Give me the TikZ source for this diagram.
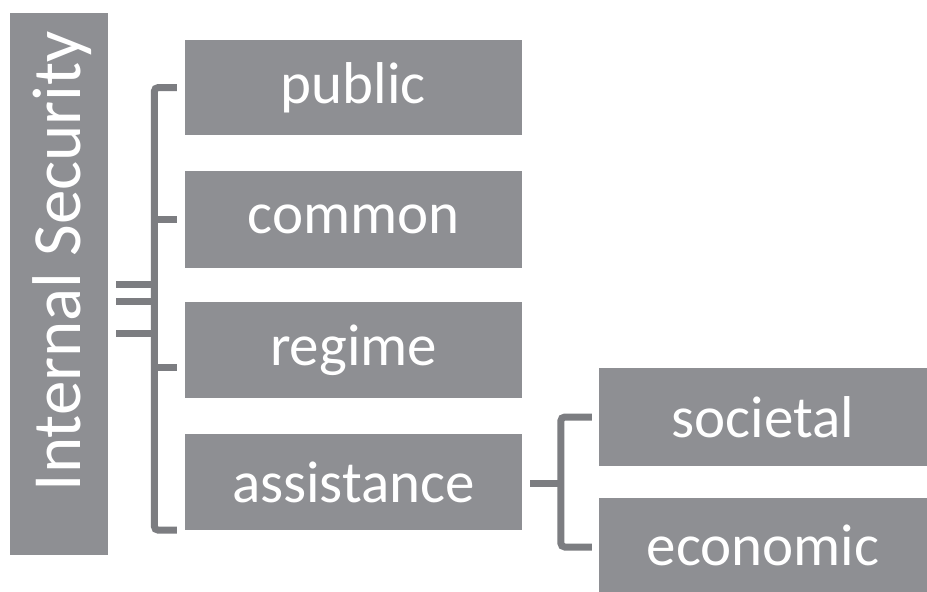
\documentclass[tikz,border=0pt]{standalone}
\usepackage{fontspec}
\setmainfont{Carlito}
\usetikzlibrary{calc}
\definecolor{boxgray}{HTML}{8E8F93}
\definecolor{linegray}{HTML}{7C7D81}
\begin{document}
\begin{tikzpicture}[x=1pt,y=-1pt,
  catbox/.style={fill=boxgray, draw=none, inner sep=0pt, text=white,
    font=\fontsize{59}{70}\selectfont},
  conn/.style={draw=linegray, line width=7pt, rounded corners=4pt}]
\useasboundingbox (0,0) rectangle (927,592);
\fill[white] (0,0) rectangle (927,592);
% left box
\node[catbox, minimum width=98pt, minimum height=542pt] (is) at (59,284) {};
\node[text=white, rotate=90, inner sep=0pt, font=\fontsize{69}{78}\selectfont] (istext) at (62,261) {Internal Security};
% category boxes
\node[catbox, minimum width=337pt, minimum height=95pt] (pub) at (353.5,87.5) {public};
\node[catbox, minimum width=337pt, minimum height=97pt] (com) at (353.5,219.5) {common};
\node[catbox, minimum width=337pt, minimum height=96pt] (reg) at (353.5,350) {regime};
\node[catbox, minimum width=337pt, minimum height=96pt] (ass) at (353.5,482) {assistance};
\node[catbox, minimum width=328pt, minimum height=98pt] (soc) at (763,417) {societal};
\node[catbox, minimum width=328pt, minimum height=94pt] (eco) at (763,545) {economic};
% main bracket
\draw[conn] ($(pub.west)+(-8,0)$) -- ($(pub.west)+(-30.5,0)$) |- ($(ass.south west)+(-8,0)$);
\draw[conn, rounded corners=0pt] ($(com.west)+(-8,0)$) -- ($(com.west)+(-30.5,0)$);
\draw[conn, rounded corners=0pt] ($(reg.west)+(-8,17)$) -- ($(reg.west)+(-30.5,17)$);
% stubs from left box
\draw[conn, rounded corners=0pt] ($(is.east)+(8,0)$) -- ($(is.east)+(46.5,0)$);
\draw[conn, rounded corners=0pt] ($(is.east)+(8,17)$) -- ($(is.east)+(46.5,17)$);
\draw[conn, rounded corners=0pt] ($(is.east)+(8,49)$) -- ($(is.east)+(46.5,49)$);
% second bracket
\draw[conn, rounded corners=0pt] ($(ass.east)+(8,1)$) -- ($(ass.east)+(39,1)$);
\draw[conn] ($(soc.west)+(-7,0)$) -- ($(soc.west)+(-38,0)$) |- ($(eco.west)+(-7,2)$);
\end{tikzpicture}
\end{document}
